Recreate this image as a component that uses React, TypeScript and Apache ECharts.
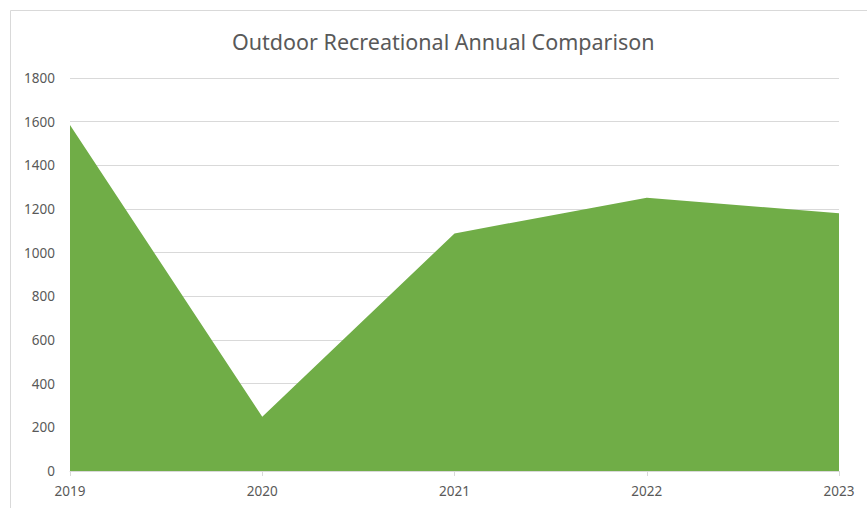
import React, { useEffect, useRef } from "react";
import * as echarts from "echarts";

const years = ["2019", "2020", "2021", "2022", "2023"];
const values = [1585, 248, 1088, 1252, 1180];
const yMin = 0;
const yMax = 1800;
const yInterval = 200;

export default function App() {
  const ref = useRef<HTMLDivElement>(null);
  useEffect(() => {
    document.body.style.margin = "0";
    const chart = echarts.init(ref.current!, null, { renderer: "svg" });
    chart.setOption({
      animation: false,
      backgroundColor: "#ffffff",
      title: {
        text: "Outdoor Recreational Annual Comparison",
        left: 227,
        top: 25,
        textStyle: { fontFamily: "Noto Sans", fontSize: 21.5, fontWeight: "normal", color: "#595959" },
      },
      graphic: [
        {
          type: "rect",
          shape: { x: 10.5, y: 10.5, width: 900, height: 600 },
          style: { fill: "none", stroke: "#d9d9d9", lineWidth: 1 },
          silent: true,
        },
      ],
      grid: { left: 70, right: 28, top: 78, bottom: 37 },
      xAxis: {
        type: "category",
        data: years,
        boundaryGap: false,
        axisLine: { lineStyle: { color: "#d9d9d9" } },
        axisTick: { show: true, length: 5, lineStyle: { color: "#d9d9d9" } },
        axisLabel: { color: "#595959", fontFamily: "Noto Sans", fontSize: 13.5, margin: 13 },
        splitLine: { show: false },
      },
      yAxis: {
        type: "value",
        min: yMin,
        max: yMax,
        interval: yInterval,
        axisLine: { show: false },
        axisTick: { show: false },
        axisLabel: {
          color: "#595959",
          fontFamily: "Noto Sans",
          fontSize: 13.5,
          margin: 15,
          formatter: (v: number) => String(v),
        },
        splitLine: { lineStyle: { color: "#d9d9d9" } },
      },
      series: [
        {
          type: "line",
          data: values,
          symbol: "none",
          lineStyle: { width: 0, color: "#70AD47" },
          itemStyle: { color: "#70AD47" },
          areaStyle: { color: "#70AD47", opacity: 1 },
        },
      ],
    });
    return () => chart.dispose();
  }, []);
  return <div ref={ref} style={{ width: 867, height: 508 }} />;
}
